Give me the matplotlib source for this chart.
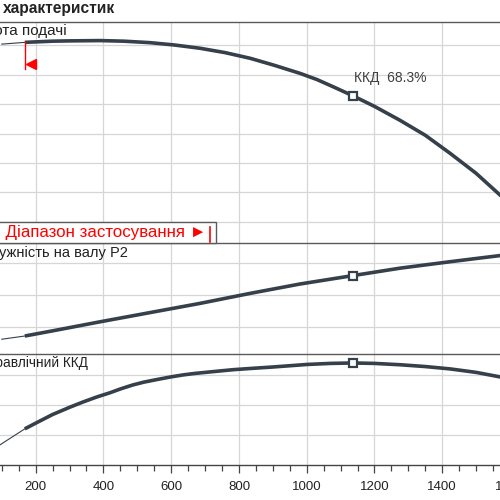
import matplotlib
matplotlib.use("Agg")
import matplotlib.pyplot as plt
from matplotlib.patches import Rectangle
from matplotlib.lines import Line2D

plt.rcParams['font.family'] = ['Liberation Sans', 'DejaVu Sans']

# ---- data ----
q_min = 168
q_bep = 1136
eff_bep = 68.3

q_head = [100, 168, 250, 300, 390, 460, 537, 610, 685, 760, 833, 905, 980, 1030, 1077, 1136, 1200, 1275, 1350, 1423, 1500, 1570, 1600]
head = [70.3, 70.9, 71.3, 71.4, 71.5, 71.3, 70.8, 70.0, 68.9, 67.4, 65.5, 63.1, 60.4, 58.3, 55.9, 52.8, 49.2, 44.5, 39.4, 33.3, 26.5, 19.2, 16.2]

q_pow = [100, 168, 250, 390, 540, 685, 833, 980, 1136, 1275, 1423, 1500, 1570, 1600]
power = [6.3, 7.3, 8.9, 11.7, 14.6, 17.4, 20.5, 23.4, 26.0, 28.3, 30.3, 31.3, 32.2, 32.6]

q_eff = [90, 168, 200, 250, 300, 340, 380, 420, 450, 487, 520, 560, 600, 635, 670, 710, 783, 833, 900, 1001, 1070, 1136, 1200, 1276, 1350, 1424, 1500, 1572, 1600]
eff = [12.8, 24.2, 28.0, 33.8, 38.6, 42.2, 45.5, 48.4, 50.9, 53.6, 55.5, 57.3, 59.0, 60.3, 61.3, 62.2, 63.8, 64.6, 65.6, 67.3, 68.0, 68.3, 68.0, 67.1, 65.9, 64.3, 62.0, 58.9, 57.8]

x_ticks = [200, 400, 600, 800, 1000, 1200, 1400, 1600]
head_grid = [10, 20, 30, 40, 50, 60, 70]
pow_grid = [10, 20, 30]
eff_grid = [20, 40, 60]

title = "характеристик"
lab_head = "Висота подачі"
lab_pow = "Потужність на валу P2"
lab_eff = "Гідравлічний ККД"
range_text = "◄ Діапазон застосування ►"
bep_text = "ККД  68.3%"

# ---- style ----
W = H = 500
curve_c = "#36404a"
grid_c = "#d6d6d6"
frame_c = "#5a5a5a"
red = "#ff0000"

fig = plt.figure(figsize=(5, 5), dpi=100)

def fx(px):
    return px / W

def fy(py):
    return 1 - py / H

x_left_px, x_right_px = -32.1, 510.0

def make_ax(top_px, bot_px, ylim, grid):
    ax = fig.add_axes([fx(x_left_px), fy(bot_px), fx(x_right_px - x_left_px), (bot_px - top_px) / H])
    ax.set_xlim(0, 1600)
    ax.set_ylim(*ylim)
    ax.set_yticks(grid)
    ax.set_xticks(x_ticks)
    ax.grid(True, color=grid_c, lw=0.9)
    ax.set_axisbelow(True)
    for s in ['left', 'right', 'bottom']:
        ax.spines[s].set_visible(False)
    ax.spines['top'].set_color(frame_c)
    ax.spines['top'].set_linewidth(1.0)
    ax.tick_params(left=False, labelleft=False, bottom=False, labelbottom=False)
    return ax

def split(q, v):
    qt = [a for a in q if a <= q_min]
    vt = v[:len(qt)]
    i0 = len(qt) - 1
    return qt, vt, q[i0:], v[i0:]

# panel 1: head
ax1 = make_ax(22, 243, (2.88, 77.8), head_grid)
qt, vt, qk, vk = split(q_head, head)
ax1.plot(qt, vt, color=curve_c, lw=0.8)
ax1.plot(qk, vk, color=curve_c, lw=2.6, solid_capstyle='butt', solid_joinstyle='round')
i = q_head.index(q_bep)
ax1.plot([q_bep], [head[i]], marker='s', ms=5.5, mfc='white', mec=curve_c, mew=1.6, zorder=5)
ax1.text(q_bep + 5, 57.6, bep_text, fontsize=10, color="#404040", ha='left', va='baseline')
# min flow marker
ax1.plot([q_min, q_min], [head[1], 62.0], color=red, lw=1.0)
ax1.plot([186], [63.7], marker='<', ms=7.5, color=red, mec=red)

# panel 2: power
ax2 = make_ax(243, 354, (1.73, 36.1), pow_grid)
qt, vt, qk, vk = split(q_pow, power)
ax2.plot(qt, vt, color=curve_c, lw=0.8)
ax2.plot(qk, vk, color=curve_c, lw=2.6, solid_capstyle='butt', solid_joinstyle='round')
i = q_pow.index(q_bep)
ax2.plot([q_bep], [power[i]], marker='s', ms=5.5, mfc='white', mec=curve_c, mew=1.6, zorder=5)

# panel 3: efficiency
ax3 = make_ax(354, 465, (0, 74.3), eff_grid)
qt, vt, qk, vk = split(q_eff, eff)
ax3.plot(qt, vt, color=curve_c, lw=0.8)
ax3.plot(qk, vk, color=curve_c, lw=2.6, solid_capstyle='butt', solid_joinstyle='round')
ax3.plot([q_bep], [eff_bep], marker='s', ms=5.5, mfc='white', mec=curve_c, mew=1.6, zorder=5)
ax3.spines['bottom'].set_visible(True)
ax3.spines['bottom'].set_color("#444444")
ax3.spines['bottom'].set_linewidth(1.0)
ax3.set_xticks(range(0, 1650, 50), minor=True)
ax3.tick_params(axis='x', which='major', bottom=True, labelbottom=True, direction='out',
                length=5.8, width=0.9, color="#444444", pad=6, labelsize=9.5, labelcolor="#222222")
ax3.tick_params(axis='x', which='minor', bottom=True, direction='out',
                length=4.6, width=0.9, color="#444444")

# ---- texts ----
fig.text(fx(3), fy(13), title, fontsize=11.2, fontweight='bold', color="#222222", ha='left', va='baseline')
fig.text(fx(67), fy(35), lab_head, fontsize=11, color="#222222", ha='right', va='baseline')
fig.text(fx(128), fy(257), lab_pow, fontsize=10.5, color="#222222", ha='right', va='baseline')
fig.text(fx(88), fy(367.5), lab_eff, fontsize=9.8, color="#222222", ha='right', va='baseline')

# range box
fig.add_artist(Rectangle((fx(-60), fy(243)), fx(276), 21 / H, transform=fig.transFigure,
                         facecolor='white', edgecolor=frame_c, lw=1.0, zorder=10))
fig.text(fx(207), fy(232.5), range_text, fontsize=12.2, color=red, ha='right', va='center', zorder=11)
fig.add_artist(Line2D([fx(210), fx(210)], [fy(227), fy(242)], transform=fig.transFigure,
                      color=red, lw=1.2, zorder=11))

fig.savefig("out.png", dpi=100)
